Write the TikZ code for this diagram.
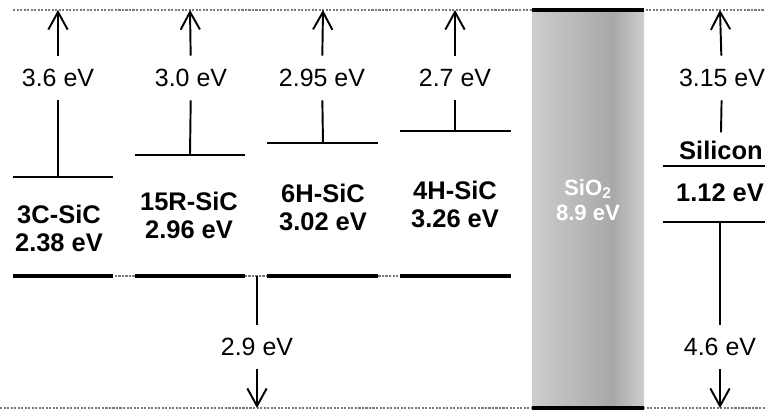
\documentclass[tikz,border=0pt]{standalone}
\usepackage{fontspec}
\setmainfont{Liberation Sans}
\usepackage{xcolor}
\usetikzlibrary{arrows.meta}
\definecolor{OxideLight}{HTML}{CDCDCD}
\definecolor{OxideDark}{HTML}{A8A8A8}
\definecolor{VacGray}{HTML}{7A7A7A}

\tikzset{
  gap/.style={font=\fontsize{14.2pt}{17pt}\selectfont, text height=10.2pt, text depth=0pt, inner xsep=0pt, inner ysep=7.4pt},
  poly/.style={font=\bfseries\fontsize{14.5pt}{16pt}\selectfont, align=center, inner sep=0pt},
  oxide/.style={font=\bfseries\fontsize{12.6pt}{14.7pt}\selectfont, align=center, white, inner sep=0pt},
  level/.style={line width=1.5pt},
  band/.style={line width=1.8pt},
  vac/.style={VacGray, line width=0.6pt, dash pattern=on 1.2pt off 0.8pt},
  up/.style={-{Straight Barb[length=10pt,width=11pt]}, line width=1.1pt},
  tie/.style={line width=1.1pt}
}

\begin{document}
\begin{tikzpicture}[x=0.02cm, y=-0.02cm]
    \useasboundingbox (0,0) rectangle (765,410);

    % Vacuum level, reference level and valence band guide
    \draw[vac] (13,10) -- (765,10);
    \draw[vac] (0,408) -- (765,408);
    \draw[vac] (13,276) -- (511,276);

    % SiO2 band
    \shade[left color=OxideLight, right color=OxideDark] (532,10) rectangle (612,408);
    \shade[left color=OxideDark, right color=OxideLight] (612,10) rectangle (644,408);
    \draw[line width=2.2pt] (532,10) -- (644,10);
    \draw[line width=2.2pt] (532,408) -- (644,408);
    \node[oxide] (ox) at (588,200) {SiO\textsubscript{2}\\8.9 eV};

    % Conduction band edges
    \draw[level] (13,177) -- (113,177);
    \draw[level] (135,155) -- (245,155);
    \draw[level, line width=0.9pt] (267,143) -- (378,143);
    \draw[level] (400,131) -- (511,131);
    \draw[level] (663,166) -- (765,166);
    \draw[level] (663,222) -- (765,222);

    % Valence band edges
    \draw[band] (13,276) -- (113,276);
    \draw[band] (135,276) -- (245,276);
    \draw[band] (267,276) -- (378,276);
    \draw[band] (400,276) -- (511,276);

    % Polytypes
    \node[poly] (p3C) at (59,228) {3C-SiC\\2.38 eV};
    \node[poly] (p15R) at (189,215) {15R-SiC\\2.96 eV};
    \node[poly] (p6H) at (323,207) {6H-SiC\\3.02 eV};
    \node[poly] (p4H) at (455,204) {4H-SiC\\3.26 eV};
    \node[poly, inner ysep=4.5pt] (nSi) at (721,150) {Silicon};
    \node[poly] (gSi) at (720,193) {1.12 eV};

    % Points on the levels
    \coordinate (v3C) at (58,10);
    \coordinate (v15R) at (190,10);
    \coordinate (v6H) at (323,10);
    \coordinate (v4H) at (455,10);
    \coordinate (vSi) at (720,10);
    \coordinate (c3C) at (58,177);
    \coordinate (c15R) at (190,155);
    \coordinate (c6H) at (323,143);
    \coordinate (c4H) at (455,131);
    \coordinate (cSi) at (720,222);
    \coordinate (tSiC) at (257,276);
    \coordinate (bSiC) at (257,408);
    \coordinate (bSi) at (720,408);

    % Electron affinities
    \node[gap] (a3C) at (58,78) {3.6 eV};
    \node[gap] (a15R) at (191,78) {3.0 eV};
    \node[gap] (a6H) at (322,78) {2.95 eV};
    \node[gap] (a4H) at (455,78) {2.7 eV};
    \node[gap] (aSi) at (722,78) {3.15 eV};
    \draw[up] (a3C) -- (v3C);
    \draw[up] (a15R) -- (v15R);
    \draw[up] (a6H) -- (v6H);
    \draw[up] (a4H) -- (v4H);
    \draw[up] (aSi) -- (vSi);
    \draw[tie] (a3C) -- (c3C);
    \draw[tie] (a15R) -- (c15R);
    \draw[tie] (a6H) -- (c6H);
    \draw[tie] (a4H) -- (c4H);
    \draw[tie] (aSi) -- (nSi.north);

    % Valence band offsets
    \node[gap] (hSiC) at (257,347) {2.9 eV};
    \node[gap] (hSi) at (720,347) {4.6 eV};
    \draw[tie] (tSiC) -- (hSiC);
    \draw[up] (hSiC) -- (bSiC);
    \draw[tie] (cSi) -- (hSi);
    \draw[up] (hSi) -- (bSi);

\end{tikzpicture}
\end{document}
